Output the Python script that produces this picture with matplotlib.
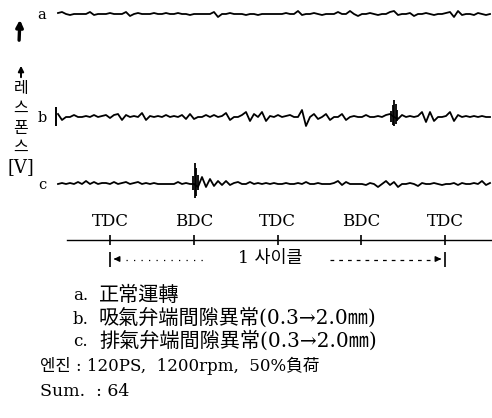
import matplotlib
matplotlib.use("Agg")
import matplotlib.pyplot as plt
import numpy as np

# trace samples: deflection in px (up = positive), one sample every 4 px from x=58
trace_a = [1, 2, 0, -1, 0, 0, 0, 0, 2, -1,
           0, 0, 0, 1, 0, 0, 0, 2, -2, 0,
           1, 0, 0, 0, 1, 0, 0, 1, 0, 0,
           1, 0, 0, -1, 0, 0, 0, 0, 0, 2,
           -3, 0, 0, 1, 0, 0, 0, -1, 0, 0,
           -1, 0, 0, 0, 0, 0, 0, 1, 0, 0,
           3, -1, 0, 0, 1, 0, -1, 0, 0, 0,
           2, 0, 0, 3, 0, -2, 0, 0, 1, 0,
           -1, 0, 0, 2, 3, -1, 0, 0, 1, -2,
           0, 0, 1, 0, -1, 0, 0, 1, 2, -3,
           3, -1, 0, 0, -1, 1, 0, -1, 0]
trace_b = [3, -3, 0, 0, 2, 0, 0, 1, 0, 2,
           0, 1, 2, -1, 2, 3, -3, 2, 0, 1,
           0, 4, -3, 1, 0, 1, 0, 2, 0, 1,
           0, 2, -2, 3, -2, 0, 0, 2, 0, 2,
           0, 1, 4, -3, 0, 0, 2, 5, -4, 3,
           0, 5, -4, 1, 0, 2, 0, 1, 2, 0,
           0, 7, -9, 0, 3, -2, 0, 3, -3, 0,
           0, 3, -3, 0, 1, 0, 0, 2, 0, 0,
           1, 0, 2, 3, 0, -2, 2, 0, 1, 0,
           1, 5, -5, 5, -4, 0, 0, 1, 5, -4,
           2, 0, 1, 0, 1, 0, 1, 0, 0]
trace_c = [0, 1, 0, 1, 0, 2, 0, 3, 0, 2,
           0, 1, 1, 0, 2, 0, 1, 2, 0, 1,
           2, 0, 1, 0, 1, 0, 0, 0, 0, 0,
           2, 0, 1, 0, 0, -3, 7, -3, 5, -2,
           3, -1, 3, -1, 1, 2, 0, 0, 2, 0,
           1, 0, 1, 0, 1, 0, 0, 1, 0, 0,
           1, 0, 2, 0, 0, 1, 0, 0, 0, 1,
           3, -1, 2, 0, 0, 0, 0, -1, 1, 0,
           -3, 0, 3, -1, 2, -3, 0, 0, 1, 0,
           -2, 1, 0, 0, 1, 0, -1, 0, 0, 1,
           -1, 1, 0, 0, 1, 0, 3, -1, 1]

# dense bursts (x px, top, bottom deflection)
burst_b_x = [391, 392.5, 394, 395.5, 397]
burst_b_top = [6, 12, 17, 13, 7]
burst_b_bot = [-5, -8, -9, -7, -4]
burst_c_x = [193, 194.5, 196, 197.5]
burst_c_top = [8, 21, 16, 9]
burst_c_bot = [-6, -14, -12, -6]

crank_deg = [0, 180, 360, 540, 720]
crank_labels = ["TDC", "BDC", "TDC", "BDC", "TDC"]

note_keys = ["a.", "b.", "c."]
note_texts = ["正常運轉",
              "吸氣弁端間隙異常(0.3→2.0㎜)",
              "排氣弁端間隙異常(0.3→2.0㎜)"]
engine_note = "엔진 : 120PS,  1200rpm,  50%負荷"
sum_note = "Sum.  : 64"

fam = ["DejaVu Serif", "Noto Sans CJK KR"]

fig = plt.figure(figsize=(4.92, 4.18), dpi=100)
ax = fig.add_axes([0, 0, 1, 1])
ax.set_xlim(0, 492)
ax.set_ylim(418, 0)
ax.axis("off")

x0, dx = 58, 4
baselines = {"a": 14, "b": 117, "c": 184}
for name, tr in [("a", trace_a), ("b", trace_b), ("c", trace_c)]:
    y0 = baselines[name]
    xs = x0 + dx * np.arange(len(tr))
    ax.plot(xs, y0 - np.array(tr), color="black", lw=1.3)
    ax.text(42, y0 + 1, name, fontsize=10.5, family=fam, ha="center", va="center")

ax.vlines(burst_b_x, 117 - np.array(burst_b_bot), 117 - np.array(burst_b_top),
          color="black", lw=1.3)
ax.vlines(burst_c_x, 184 - np.array(burst_c_bot), 184 - np.array(burst_c_top),
          color="black", lw=1.3)
ax.vlines(56, 107, 126, color="black", lw=1.4)

# left-hand response axis label
ax.annotate("", xy=(20, 17), xytext=(19, 43),
            arrowprops=dict(arrowstyle="-|>", lw=2.4, color="black", mutation_scale=10))
ax.annotate("", xy=(21, 63), xytext=(21, 80),
            arrowprops=dict(arrowstyle="-|>", lw=1.4, color="black", mutation_scale=8))
for ch, yy in zip("레스폰스", [88, 108, 129, 147]):
    ax.text(21, yy, ch, fontsize=11.5, family="Noto Sans CJK KR", ha="center", va="center")
ax.text(21, 167, "[V]", fontsize=13, family=fam, ha="center", va="center")

# crank angle scale
px = [110 + d * 335 / 720 for d in crank_deg]
ax.plot([67, 492], [240, 240], color="black", lw=1.0)
ax.vlines(px, 235, 245, color="black", lw=1.2)
for p, lab in zip(px, crank_labels):
    ax.text(p, 222, lab, fontsize=12, family=fam, ha="center", va="center")

ax.vlines([px[0], px[-1]], 252, 267, color="black", lw=1.2)
ax.annotate("", xy=(px[0] + 1, 259), xytext=(px[0] + 9, 259),
            arrowprops=dict(arrowstyle="-|>", lw=1, color="black", mutation_scale=8))
ax.annotate("", xy=(px[-1] - 1, 259), xytext=(px[-1] - 9, 259),
            arrowprops=dict(arrowstyle="-|>", lw=1, color="black", mutation_scale=8))
ax.plot([126, 205], [260, 260], color="black", lw=0.9, ls=(0, (1, 5)))
ax.plot([330, 430], [260, 260], color="black", lw=0.9, ls=(0, (3, 4)))
ax.text(270, 259, "1 사이클", fontsize=12.5, family=fam, ha="center", va="center")

for key, txt, yy in zip(note_keys, note_texts, [295, 318, 341]):
    ax.text(73, yy + 1, key, fontsize=12, family=fam, ha="left", va="center")
    ax.text(99, yy, txt, fontsize=14.5, family=fam, ha="left", va="center")
ax.text(40, 366, engine_note, fontsize=12, family=fam, ha="left", va="center")
ax.text(40, 391, sum_note, fontsize=12.5, family=fam, ha="left", va="center")

fig.savefig("out.png", dpi=100, facecolor="white")
